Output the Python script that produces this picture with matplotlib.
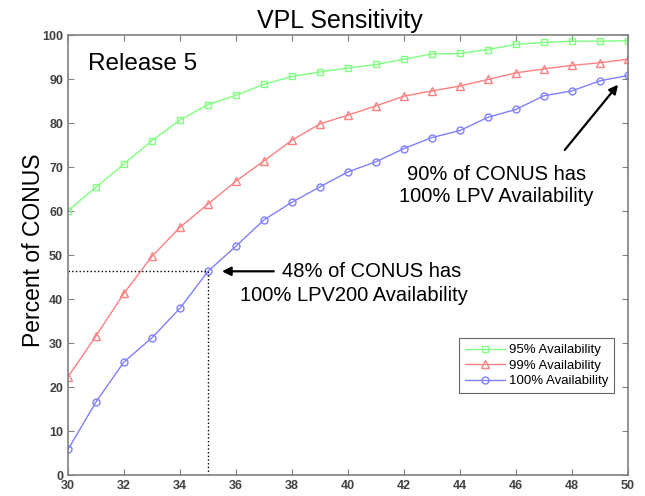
import matplotlib
matplotlib.use("Agg")
import matplotlib.pyplot as plt
import numpy as np

plt.rcParams['font.family'] = ['Liberation Sans', 'DejaVu Sans']

vpl = np.arange(30, 51)
avail_95 = [60.1, 65.4, 70.7, 76.0, 80.7, 84.2, 86.3, 88.8, 90.6, 91.6, 92.5,
            93.3, 94.5, 95.7, 95.8, 96.7, 97.9, 98.3, 98.6, 98.6, 98.7]
avail_99 = [22.3, 31.6, 41.3, 49.7, 56.3, 61.6, 66.8, 71.4, 76.1, 79.8, 81.8,
            83.9, 86.1, 87.3, 88.4, 89.9, 91.4, 92.3, 93.1, 93.7, 94.5]
avail_100 = [5.8, 16.6, 25.7, 31.2, 37.9, 46.3, 52.0, 58.0, 62.0, 65.5, 68.9,
             71.2, 74.2, 76.7, 78.3, 81.3, 83.1, 86.2, 87.3, 89.6, 90.8]
labels = ["95% Availability", "99% Availability", "100% Availability"]

fig = plt.figure(figsize=(6.45, 4.96), dpi=100)
ax = fig.add_axes([0.1054, 0.0423, 0.8682, 0.8871])

ax.plot(vpl, avail_95, color='#80ff80', marker='s', mfc='none', ms=4.5, lw=1, label=labels[0])
ax.plot(vpl, avail_99, color='#ff8080', marker='^', mfc='none', ms=5.5, lw=1, label=labels[1])
ax.plot(vpl, avail_100, color='#8080ff', marker='o', mfc='none', ms=5, lw=1, label=labels[2])

# dotted guide to the 35 m point
vpl_mark = 35
pct_mark = avail_100[vpl.tolist().index(vpl_mark)]
ax.plot([30, vpl_mark], [pct_mark, pct_mark], ls=':', color='black', lw=1)
ax.plot([vpl_mark, vpl_mark], [0, pct_mark], ls=':', color='black', lw=1)

ax.set_xlim(30, 50)
ax.set_ylim(0, 100)
ax.set_xticks(np.arange(30, 51, 2))
ax.set_yticks(np.arange(0, 101, 10))
ax.tick_params(direction='in', top=True, right=True, length=4, color='#808080',
               labelsize=9, labelcolor='#404040')
for lab in ax.get_xticklabels() + ax.get_yticklabels():
    lab.set_fontweight('bold')
for s in ax.spines.values():
    s.set_color('#808080')
    s.set_linewidth(1.2)

fig.text(0.527, 0.9435, "VPL Sensitivity", fontsize=18, ha='center', va='baseline')
fig.text(0.0527, 0.496, "Percent of CONUS", fontsize=16.5, rotation=90,
         ha='center', va='center')
ax.text(30.7, 93.5, "Release 5", fontsize=17.5, va='center')

ax.annotate("", xy=(35.4, pct_mark), xytext=(37.45, pct_mark),
            arrowprops=dict(arrowstyle='-|>', color='black', lw=1.6, mutation_scale=13))
ax.text(40.84, 46.3, "48% of CONUS has", fontsize=14.5, ha='center', va='center')
ax.text(40.2, 40.9, "100% LPV200 Availability", fontsize=14.5, ha='center', va='center')
ax.annotate("", xy=(49.71, 89.2), xytext=(47.68, 73.4),
            arrowprops=dict(arrowstyle='-|>', color='black', lw=1.6, mutation_scale=13))
ax.text(45.3, 65.7, "90% of CONUS has\n100% LPV Availability", fontsize=14.5,
        ha='center', va='center', linespacing=1.2)

leg = ax.legend(loc='lower right', bbox_to_anchor=(0.9755, 0.186), fontsize=9.5,
                frameon=True, fancybox=False, edgecolor='#404040', handlelength=3,
                borderpad=0.45, labelspacing=0.25, handletextpad=0.3, borderaxespad=0)
leg.get_frame().set_linewidth(0.8)

fig.savefig("out.png", dpi=100)
